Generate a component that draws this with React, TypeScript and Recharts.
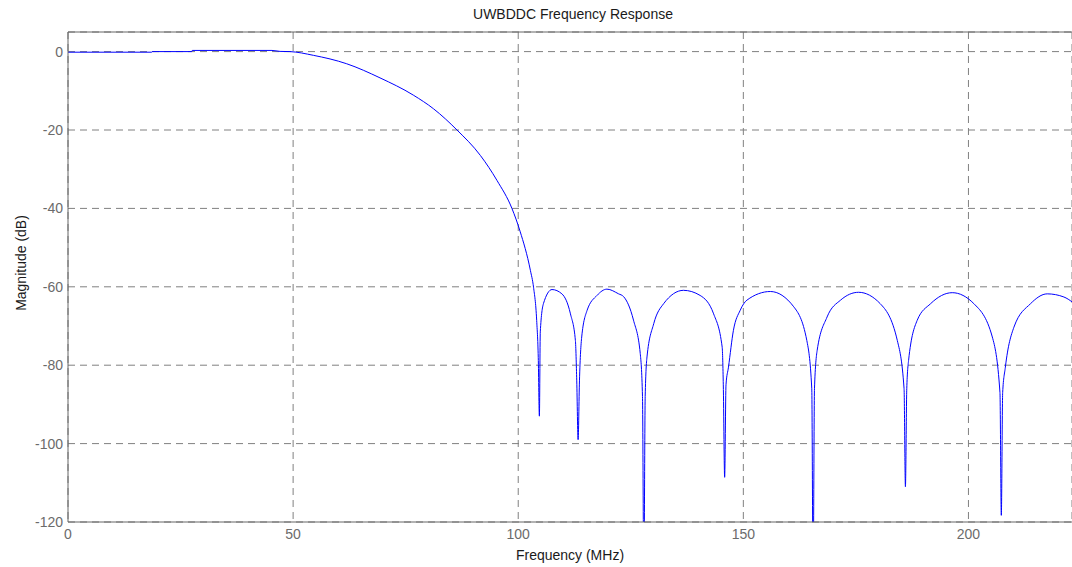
import {
  LineChart,
  Line,
  XAxis,
  YAxis,
  CartesianGrid,
  ReferenceLine,
  Label,
} from "recharts";

// Frequency (MHz) and magnitude (dB)
const FREQ = [
  0, 18.6, 18.7, 27.5, 27.6, 45.3, 47.1, 49.3, 54.5, 61.9, 69.3, 76.7, 81.2,
  86.4, 91.6, 95.3, 98.6, 100.4, 102.7, 103.4, 104.1, 104.45, 104.7, 104.9,
  105.6, 107.5, 109.7, 111.6, 112.7, 113.0, 113.3, 113.6, 114.1, 115.3, 117.5,
  119.7, 122.3, 123.4, 125.6, 127.1, 127.6, 127.9, 128.2, 128.6, 130.1, 132.3,
  136.7, 140.4, 143.4, 145.3, 145.55, 145.85, 146.15, 146.7, 147.8, 149.3,
  150.8, 156, 161.2, 164.1, 165.2, 165.5, 165.8, 166.4, 168.6, 171.6, 175.6,
  180.4, 184.2, 185.7, 186.0, 186.3, 186.7, 188.6, 191.6, 196.4, 201.2, 205.3,
  207.0, 207.3, 207.6, 208.2, 210.1, 213.8, 217.5, 221.2, 223.1,
];

const MAG_DB = [
  -0.15, -0.15, 0, 0, 0.3, 0.3, 0.05, 0, -0.95, -3.1, -6.7, -11.1, -14.6,
  -20, -26.5, -32.9, -40, -45.8, -55.8, -60.1, -68.6, -78, -93, -71.5,
  -64.3, -60.7, -61.8, -66.9, -73.7, -84, -99, -84, -72.8, -66, -62.2,
  -60.6, -61.8, -62.5, -68.5, -77, -88, -135, -88, -77.9, -69.4, -64.3,
  -60.9, -62.2, -66.9, -75.4, -85, -108.6, -85, -80.5, -71.1, -66,
  -63.4, -61.2, -65.1, -73.7, -86, -135, -86, -76.2, -67.7, -63.4, -61.4,
  -64.3, -73.7, -86, -111, -86, -78.8, -68.6, -64.3, -61.5, -64.3, -72.8,
  -87, -118.3, -87, -80.5, -70.3, -64.3, -61.8, -62.6, -63.9,
];

const X_TICKS = [0, 50, 100, 150, 200];
const Y_TICKS = [0, -20, -40, -60, -80, -100, -120];

const data = FREQ.map((f, i) => ({ freq: f, mag: MAG_DB[i] }));

const FONT = "'Liberation Sans', Arial, sans-serif";
const AXIS_COLOR = "#666666";
const GRID_COLOR = "#808080";

export default function App() {
  return (
    <div
      style={{
        position: "absolute",
        left: 0,
        top: 0,
        width: 1072,
        height: 567,
        background: "#fff",
        fontFamily: FONT,
      }}
    >
      <div
        style={{
          position: "absolute",
          left: 573,
          top: 14,
          transform: "translate(-50%, -50%)",
          fontSize: 14,
          color: "#1a1a1a",
          whiteSpace: "nowrap",
        }}
      >
        UWBDDC Frequency Response
      </div>
      <div
        style={{
          position: "absolute",
          left: 21,
          top: 263,
          transform: "translate(-50%, -50%) rotate(-90deg)",
          fontSize: 14,
          color: "#1a1a1a",
          whiteSpace: "nowrap",
        }}
      >
        Magnitude (dB)
      </div>
      <LineChart
        width={1072}
        height={567}
        data={data}
        margin={{ top: 32, right: 0, left: 0, bottom: 0 }}
        style={{ fontFamily: FONT }}
      >
        <CartesianGrid
          stroke={GRID_COLOR}
          strokeDasharray="7 5"
          vertical
          horizontal
        />
        <XAxis
          dataKey="freq"
          type="number"
          domain={[0, 223]}
          ticks={X_TICKS}
          allowDataOverflow
          height={45}
          tickLine={false}
          tickSize={5}
          tickMargin={2}
          stroke={AXIS_COLOR}
          tick={{ fontSize: 14, fill: "#6b6b6b" }}
        >
          <Label
            value="Frequency (MHz)"
            position="insideBottom"
            offset={7}
            style={{ fontSize: 14, fill: "#1a1a1a" }}
          />
        </XAxis>
        <YAxis
          type="number"
          domain={[-120, 5]}
          ticks={Y_TICKS}
          allowDataOverflow
          width={68}
          tickLine={false}
          tickSize={3}
          tickMargin={2}
          stroke={AXIS_COLOR}
          tick={{ fontSize: 14, fill: "#6b6b6b" }}
        />
        <ReferenceLine y={5} stroke={AXIS_COLOR} strokeWidth={1} />
        <Line
          type="monotone"
          dataKey="mag"
          stroke="#0000ff"
          strokeWidth={1}
          dot={false}
          isAnimationActive={false}
        />
      </LineChart>
    </div>
  );
}
